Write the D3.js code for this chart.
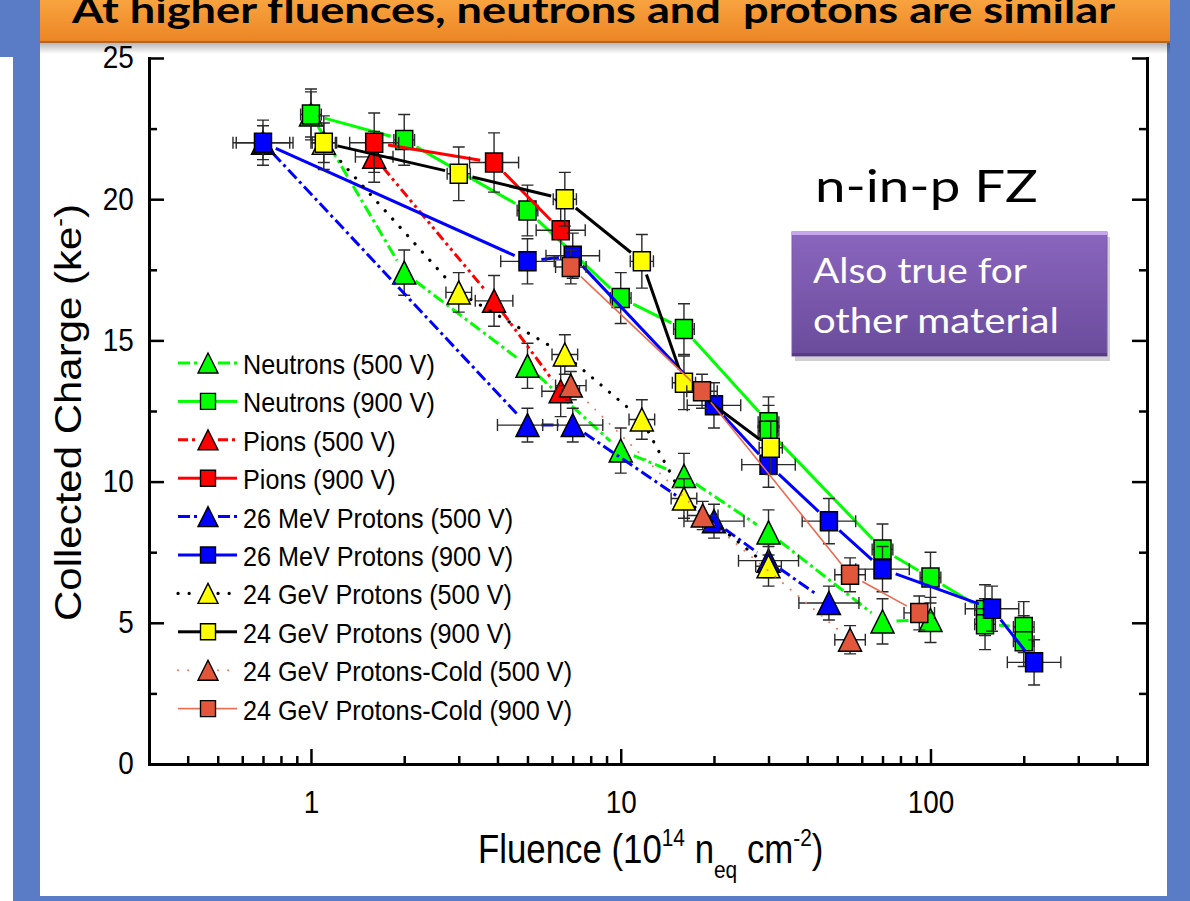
<!DOCTYPE html>
<html>
<head>
<meta charset="utf-8">
<script src="https://cdn.jsdelivr.net/npm/d3@7/dist/d3.min.js"></script>
<style>
  body { margin: 0; background: #5a7bc5; }
  svg { display: block; }
</style>
</head>
<body>
<svg id="chart" width="1190" height="901"></svg>
<script>

// ---- data ----
var xTicksMajor = [1, 10, 100];
var xTicksMinor = [0.4, 0.5, 0.6, 0.7, 0.8, 0.9, 2, 3, 4, 5, 6, 7, 8, 9, 20, 30, 40, 50, 60, 70, 80, 90, 200, 300, 400];
var yTicksMajor = [0, 5, 10, 15, 20, 25];
var yTicksMinor = [2.5, 7.5, 12.5, 17.5, 22.5];

var seriesNames = [
  "Neutrons (500 V)", "Neutrons (900 V)",
  "Pions (500 V)", "Pions (900 V)",
  "26 MeV Protons (500 V)", "26 MeV Protons (900 V)",
  "24 GeV Protons (500 V)", "24 GeV Protons (900 V)",
  "24 GeV Protons-Cold (500 V)", "24 GeV Protons-Cold (900 V)"
];

// [fluence (1e14 neq/cm2), collected charge (ke-)]
var neutrons500 = [[1, 23.0], [2, 17.4], [5, 14.1], [10, 11.1], [16, 10.2], [30, 8.2], [70, 5.05], [100, 5.1]];
var neutrons900 = [[1, 23.0], [2, 22.1], [5, 19.6], [10, 16.5], [16, 15.4], [30, 12.1], [30, 11.8], [70, 7.6], [100, 6.6], [150, 5.45], [150, 4.95], [200, 4.85], [200, 4.35]];
var pions500 = [[1.6, 21.5], [3.9, 16.4], [6.4, 13.2]];
var pions900 = [[1.6, 22.0], [3.9, 21.3], [6.4, 18.9]];
var mev500 = [[0.7, 22.0], [5, 12.0], [7, 12.0], [20, 8.6], [30, 7.2], [47, 5.7]];
var mev900 = [[0.7, 22.0], [5, 17.8], [7, 18.0], [20, 12.7], [30, 10.6], [47, 8.6], [70, 6.9], [158, 5.5], [216, 3.6]];
var gev500 = [[1.1, 22.0], [3, 16.7], [6.6, 14.5], [11.7, 12.2], [16, 9.4], [30, 7.0]];
var gev900 = [[1.1, 22.0], [3, 20.9], [6.6, 20.0], [11.7, 17.8], [16, 13.5], [30.5, 11.2]];
var cold500 = [[6.9, 13.4], [18.4, 8.8], [55, 4.4]];
var cold900 = [[6.9, 17.6], [18.3, 13.2], [55, 6.7], [92, 5.35]];

var seriesData = [neutrons500, neutrons900, pions500, pions900, mev500, mev900, gev500, gev900, cold500, cold900];

// error bars per series: charge +/- value, fluence x/÷ factor
var yErrors = [0.8, 0.9, 0.9, 1.05, 0.6, 0.8, 0.7, 0.95, 0.5, 0.6];
var xErrFactors = [1.0, 1.08, 1.15, 1.2, 1.25, 1.22, 1.1, 1.09, 1.12, 1.12];

// ---- styles (kept apart from the data) ----
var styles = [
  {fill: "#00ff00", stroke: "#00ff00", shape: "tri", dash: "12,4,3,4", width: 3},
  {fill: "#00ff00", stroke: "#00ff00", shape: "sq", dash: null, width: 3},
  {fill: "#ff0000", stroke: "#ff0000", shape: "tri", dash: "10,4,3,4,3,4", width: 3},
  {fill: "#ff0000", stroke: "#ff0000", shape: "sq", dash: null, width: 3},
  {fill: "#0000ff", stroke: "#0000ff", shape: "tri", dash: "12,4,3,4", width: 3},
  {fill: "#0000ff", stroke: "#0000ff", shape: "sq", dash: null, width: 3},
  {fill: "#ffff00", stroke: "#000000", shape: "tri", dash: "0.1,11", width: 3.2, cap: "round"},
  {fill: "#ffff00", stroke: "#000000", shape: "sq", dash: null, width: 3},
  {fill: "#e2573b", stroke: "#f07a62", shape: "tri", dash: "0.1,10", width: 2, cap: "round"},
  {fill: "#e2573b", stroke: "#ec6a4f", shape: "sq", dash: null, width: 1.6}
];

var svg = d3.select("#chart");
var FONT = "'Liberation Sans', Arial, sans-serif";

// ---- slide background ----
var defs = svg.append("defs");
var og = defs.append("linearGradient").attr("id", "orange").attr("x1", 0).attr("y1", 0).attr("x2", 0).attr("y2", 1);
og.append("stop").attr("offset", "0%").attr("stop-color", "#f8a33f");
og.append("stop").attr("offset", "100%").attr("stop-color", "#ec8424");
var sh = defs.append("linearGradient").attr("id", "shadow").attr("x1", 0).attr("y1", 0).attr("x2", 0).attr("y2", 1);
sh.append("stop").attr("offset", "0%").attr("stop-color", "#000").attr("stop-opacity", 0.28);
sh.append("stop").attr("offset", "100%").attr("stop-color", "#000").attr("stop-opacity", 0);
var pg = defs.append("linearGradient").attr("id", "purple").attr("x1", 0).attr("y1", 0).attr("x2", 0).attr("y2", 1);
pg.append("stop").attr("offset", "0%").attr("stop-color", "#8a66be");
pg.append("stop").attr("offset", "100%").attr("stop-color", "#6a4b9b");

svg.append("rect").attr("width", 1190).attr("height", 901).attr("fill", "#5a7bc5");
svg.append("rect").attr("x", 0).attr("y", 57).attr("width", 13).attr("height", 844).attr("fill", "#ffffff");
svg.append("rect").attr("x", 40).attr("y", 0).attr("width", 1127).attr("height", 896).attr("fill", "#ffffff");

// title banner (its top is cut by the slide edge, as in the source)
svg.append("rect").attr("x", 40).attr("y", 43).attr("width", 1130).attr("height", 11).attr("fill", "url(#shadow)");
svg.append("rect").attr("x", 40).attr("y", 0).attr("width", 1130).attr("height", 43).attr("fill", "url(#orange)");
svg.append("rect").attr("x", 40).attr("y", 41).attr("width", 1130).attr("height", 2).attr("fill", "#b0652a");
svg.append("text")
  .attr("x", 72).attr("y", 23)
  .attr("font-family", "Lato, 'Open Sans', sans-serif").attr("font-weight", 700).attr("font-size", 36)
  .attr("textLength", 1043).attr("lengthAdjust", "spacingAndGlyphs")
  .style("white-space", "pre")
  .attr("fill", "#000")
  .text("At higher fluences, neutrons and  protons are similar");

// ---- scales ----
var x = d3.scaleLog().domain([0.3, 500]).range([149, 1147]);
var y = d3.scaleLinear().domain([0, 25]).range([764, 58]);

// ---- axes ----
function styleAxis(g) {
  g.select(".domain").attr("stroke", "#000").attr("stroke-width", 3).attr("stroke-linecap", "square");
  g.selectAll(".tick line").attr("stroke", "#000").attr("stroke-width", 2.5);
  g.attr("font-family", FONT).attr("font-size", 31);
  g.selectAll(".tick text").attr("fill", "#000").attr("transform", "scale(0.9,1)");
}

var gxMinor = svg.append("g").attr("transform", "translate(0,764)")
  .call(d3.axisBottom(x).tickValues(xTicksMinor).tickFormat("").tickSizeInner(-8).tickSizeOuter(0));
styleAxis(gxMinor);
var gx = svg.append("g").attr("transform", "translate(0,764)")
  .call(d3.axisBottom(x).tickValues(xTicksMajor).tickFormat(d3.format("d")).tickSizeInner(-15).tickSizeOuter(0).tickPadding(27));
styleAxis(gx);

var gyMinor = svg.append("g").attr("transform", "translate(149,0)")
  .call(d3.axisLeft(y).tickValues(yTicksMinor).tickFormat("").tickSizeInner(-8).tickSizeOuter(0));
styleAxis(gyMinor);
var gy = svg.append("g").attr("transform", "translate(149,0)")
  .call(d3.axisLeft(y).tickValues(yTicksMajor).tickSizeInner(-15).tickSizeOuter(0).tickPadding(17));
styleAxis(gy);

var gr = svg.append("g").attr("transform", "translate(1147,0)")
  .call(d3.axisRight(y).tickValues(yTicksMajor).tickFormat("").tickSizeInner(-15).tickSizeOuter(0));
styleAxis(gr);
var grMinor = svg.append("g").attr("transform", "translate(1147,0)")
  .call(d3.axisRight(y).tickValues(yTicksMinor).tickFormat("").tickSizeInner(-8).tickSizeOuter(0));
styleAxis(grMinor);

// axis titles
var xl = svg.append("text")
  .attr("transform", "translate(478,863) scale(0.87,1)")
  .attr("font-family", FONT).attr("font-size", 40).attr("fill", "#000");
xl.append("tspan").text("Fluence (10");
xl.append("tspan").attr("font-size", 24).attr("dy", -17).text("14");
xl.append("tspan").attr("dy", 17).text(" n");
xl.append("tspan").attr("font-size", 24).attr("dy", 15).text("eq");
xl.append("tspan").attr("dy", -15).text(" cm");
xl.append("tspan").attr("font-size", 24).attr("dy", -17).text("-2");
xl.append("tspan").attr("dy", 17).text(")");

var yl = svg.append("text")
  .attr("transform", "translate(81,621) rotate(-90) scale(1,0.9)")
  .attr("font-family", FONT).attr("font-size", 42).attr("fill", "#000");
yl.append("tspan").text("Collected Charge (ke");
yl.append("tspan").attr("font-size", 26).attr("dy", -16).text("-");
yl.append("tspan").attr("dy", 16).text(")");

// ---- marker shapes ----
function markerPath(shape, w, h) {
  if (shape === "tri") {
    return "M0," + (-h / 2) + "L" + (w / 2) + "," + (h / 2) + "L" + (-w / 2) + "," + (h / 2) + "Z";
  }
  return "M" + (-w / 2) + "," + (-h / 2) + "h" + w + "v" + h + "h" + (-w) + "Z";
}

var plot = svg.append("g");
var GAP = 14;

seriesData.forEach(function(data, i) {
  var st = styles[i];
  var g = plot.append("g");
  var pts = data.map(function(d) { return [x(d[0]), y(d[1])]; });

  // connecting line, broken around each symbol
  for (var k = 0; k < pts.length - 1; k++) {
    var p = pts[k], q = pts[k + 1];
    var dx = q[0] - p[0], dy = q[1] - p[1];
    var len = Math.sqrt(dx * dx + dy * dy);
    if (len <= 2 * GAP) continue;
    var ux = dx / len, uy = dy / len;
    g.append("line")
      .attr("x1", p[0] + ux * GAP).attr("y1", p[1] + uy * GAP)
      .attr("x2", q[0] - ux * GAP).attr("y2", q[1] - uy * GAP)
      .attr("stroke", st.stroke).attr("stroke-width", st.width)
      .attr("stroke-dasharray", st.dash)
      .attr("stroke-linecap", st.cap || "butt");
  }

  // error bars
  var eb = g.append("g").attr("stroke", "#2a2a2a").attr("stroke-width", 1.4).attr("fill", "none");
  data.forEach(function(d) {
    var cx = x(d[0]), cy = y(d[1]);
    var y1 = y(d[1] + yErrors[i]), y2 = y(d[1] - yErrors[i]);
    eb.append("path").attr("d",
      "M" + cx + "," + y1 + "V" + y2 +
      "M" + (cx - 6) + "," + y1 + "h12" +
      "M" + (cx - 6) + "," + y2 + "h12");
    if (xErrFactors[i] > 1) {
      var x1 = x(d[0] / xErrFactors[i]), x2 = x(d[0] * xErrFactors[i]);
      eb.append("path").attr("d",
        "M" + x1 + "," + cy + "H" + x2 +
        "M" + x1 + "," + (cy - 6) + "v12" +
        "M" + x2 + "," + (cy - 6) + "v12");
    }
  });

  // symbols
  g.selectAll("path.sym").data(data).enter().append("path")
    .attr("class", "sym")
    .attr("transform", function(d) { return "translate(" + x(d[0]) + "," + y(d[1]) + ")"; })
    .attr("d", st.shape === "tri" ? markerPath("tri", 23, 23) : markerPath("sq", 17, 19))
    .attr("fill", st.fill).attr("stroke", "#000").attr("stroke-width", 1.5)
    .attr("stroke-linejoin", "miter");
});

// ---- legend ----
var legend = svg.append("g");
seriesNames.forEach(function(name, i) {
  var st = styles[i];
  var cy = 363 + i * 38.4;
  var row = legend.append("g").attr("transform", "translate(0," + cy + ")");
  var half = st.shape === "tri" ? 10 : 8;
  [[178, 208 - half], [208 + half, 237]].forEach(function(seg) {
    row.append("line").attr("x1", seg[0]).attr("x2", seg[1]).attr("y1", 0).attr("y2", 0)
      .attr("stroke", st.stroke).attr("stroke-width", st.width)
      .attr("stroke-dasharray", st.dash).attr("stroke-linecap", st.cap || "butt");
  });
  row.append("path").attr("transform", "translate(208,0)")
    .attr("d", st.shape === "tri" ? markerPath("tri", 20, 20) : markerPath("sq", 15, 16))
    .attr("fill", st.fill).attr("stroke", "#000").attr("stroke-width", 1.4);
  row.append("text")
    .attr("transform", "translate(243,11) scale(0.9,1)")
    .attr("font-family", FONT).attr("font-size", 28).attr("fill", "#000")
    .text(name);
});

// ---- annotations ----
svg.append("text")
  .attr("x", 815).attr("y", 202)
  .attr("font-family", "Lato, 'Open Sans', sans-serif").attr("font-size", 44)
  .attr("textLength", 223).attr("lengthAdjust", "spacingAndGlyphs")
  .attr("fill", "#000").text("n-in-p FZ");

svg.append("rect").attr("x", 795).attr("y", 237).attr("width", 315).attr("height", 124)
  .attr("fill", "#000").attr("opacity", 0.18);
svg.append("rect").attr("x", 792).attr("y", 232).attr("width", 315).attr("height", 124)
  .attr("fill", "url(#purple)").attr("stroke", "#7a5aa8").attr("stroke-width", 1);
svg.append("rect").attr("x", 792).attr("y", 232).attr("width", 315).attr("height", 3)
  .attr("fill", "#c7a6ee");
svg.append("rect").attr("x", 792).attr("y", 353).attr("width", 315).attr("height", 3)
  .attr("fill", "#563c80");
svg.append("text")
  .attr("x", 813).attr("y", 283)
  .attr("font-family", "Lato, 'Open Sans', sans-serif").attr("font-size", 35)
  .attr("textLength", 214).attr("lengthAdjust", "spacingAndGlyphs")
  .attr("fill", "#ffffff").text("Also true for");
svg.append("text")
  .attr("x", 813).attr("y", 333)
  .attr("font-family", "Lato, 'Open Sans', sans-serif").attr("font-size", 35)
  .attr("textLength", 246).attr("lengthAdjust", "spacingAndGlyphs")
  .attr("fill", "#ffffff").text("other material");

</script>
</body>
</html>
